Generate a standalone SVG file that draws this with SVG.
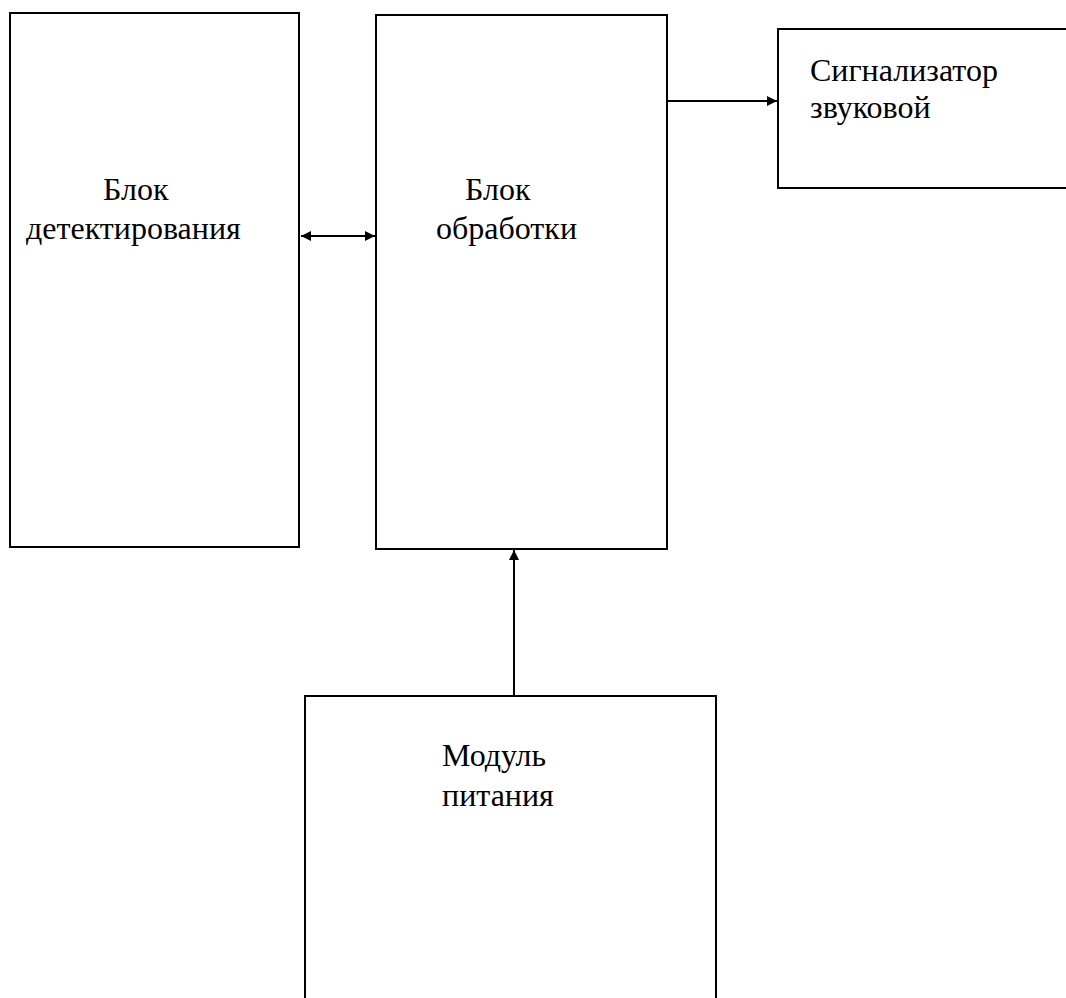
<svg xmlns="http://www.w3.org/2000/svg" width="1066" height="998" viewBox="0 0 1066 998">
<style>
.box{fill:#fff;stroke:#000;stroke-width:2}
.lbl{font-family:"Liberation Serif","Times New Roman",serif;font-size:32px;fill:#000}
.con{stroke:#000;stroke-width:2;fill:none}
</style>
<defs>
<marker id="ah" viewBox="0 0 10 10" refX="10" refY="5" markerWidth="5" markerHeight="5.5" orient="auto-start-reverse" markerUnits="strokeWidth">
<path d="M0,0 L10,5 L0,10 z" fill="#000"/>
</marker>
</defs>
<rect width="1066" height="998" fill="#fff"/>
<g id="detect">
<rect class="box" x="10" y="13" width="289" height="534"/>
<text class="lbl" x="103" y="200">Блок</text>
<text class="lbl" x="26" y="239">детектирования</text>
</g>
<g id="process">
<rect class="box" x="376" y="15" width="291" height="534"/>
<text class="lbl" x="465" y="200">Блок</text>
<text class="lbl" x="436" y="239">обработки</text>
</g>
<g id="buzzer">
<path class="box" d="M1067,29 H778 V188 H1067"/>
<text class="lbl" x="810" y="81">Сигнализатор</text>
<text class="lbl" x="810" y="118">звуковой</text>
</g>
<g id="power">
<path class="box" d="M305,999 V696 H716 V999"/>
<text class="lbl" x="442" y="766">Модуль</text>
<text class="lbl" x="442" y="806">питания</text>
</g>
<g id="connectors">
<line class="con" x1="301" y1="236" x2="375" y2="236" marker-start="url(#ah)" marker-end="url(#ah)"/>
<line class="con" x1="667" y1="101" x2="777" y2="101" marker-end="url(#ah)"/>
<line class="con" x1="514" y1="696" x2="514" y2="550" marker-end="url(#ah)"/>
</g>
</svg>
